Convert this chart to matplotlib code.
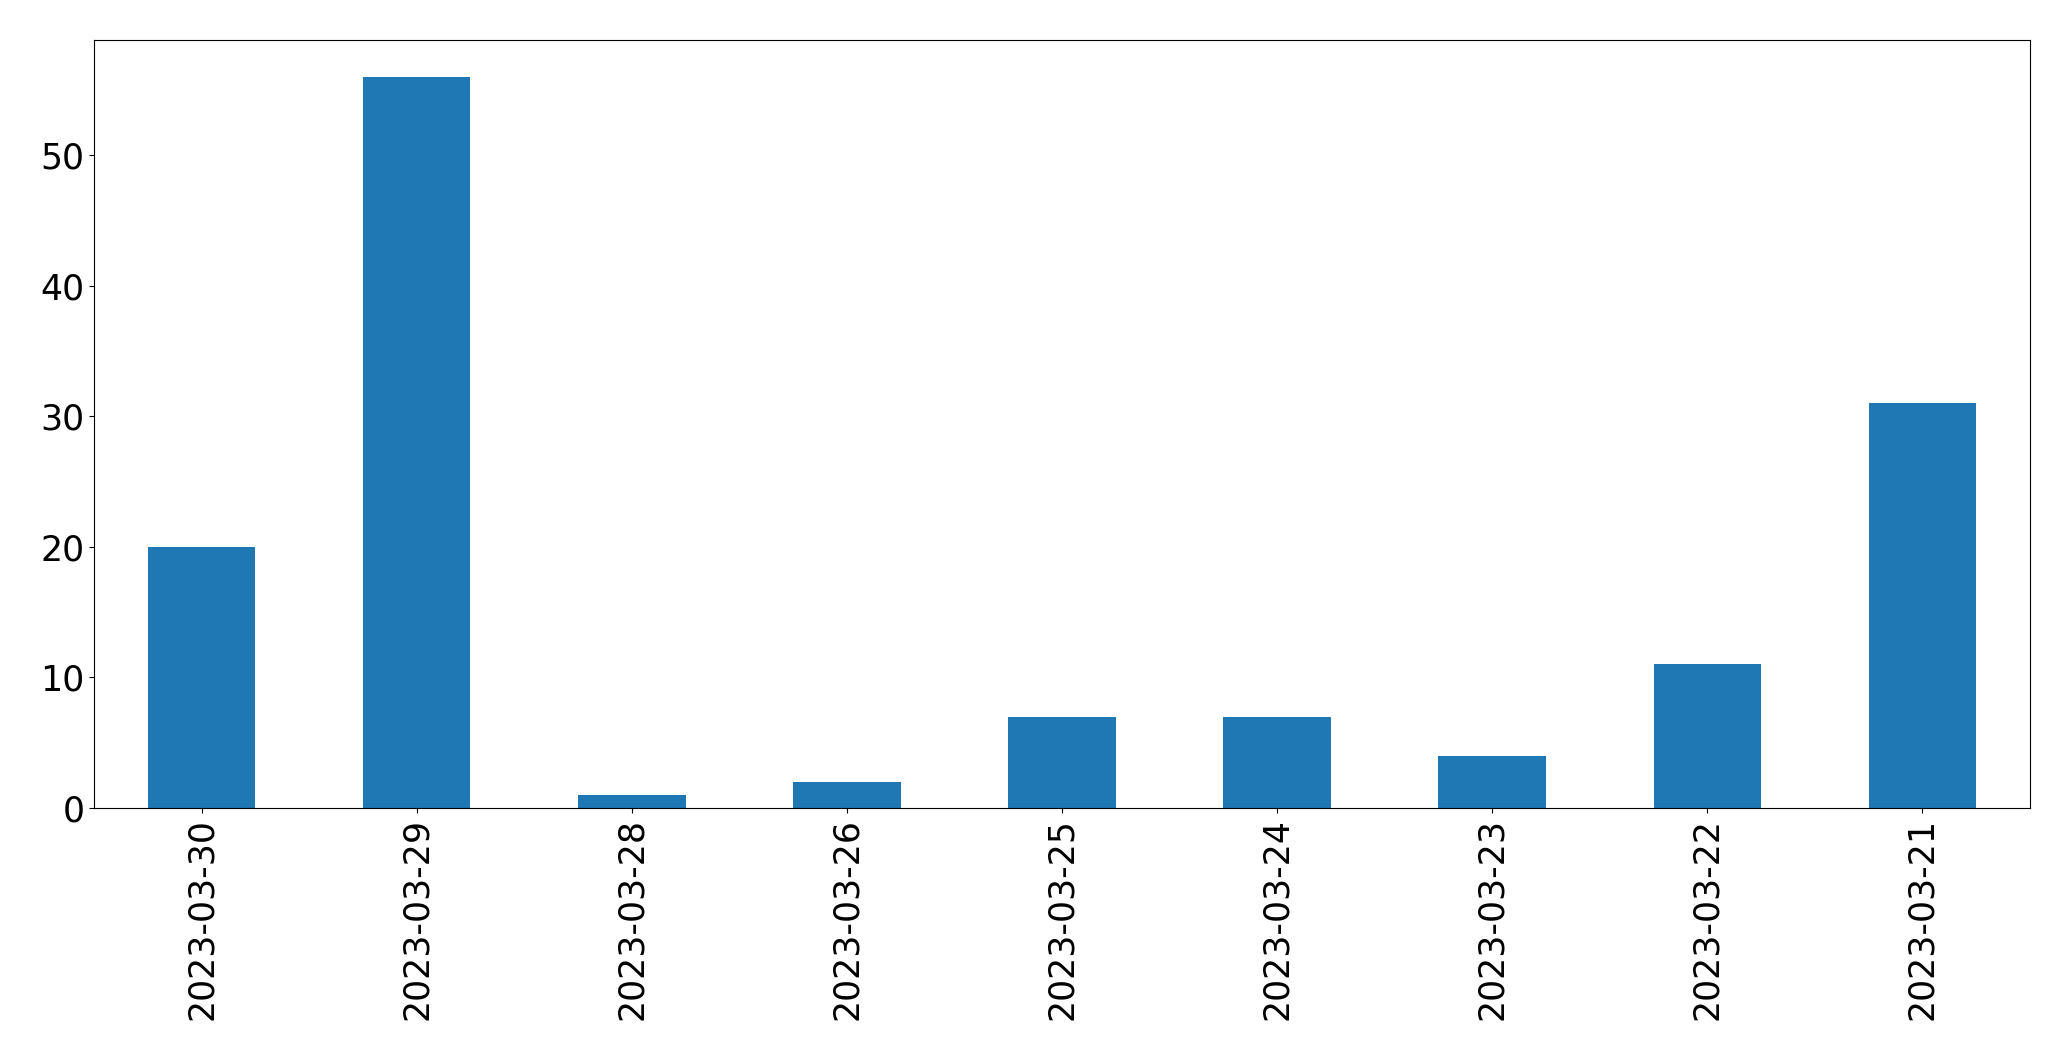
import matplotlib
matplotlib.use("Agg")
import matplotlib.pyplot as plt

dates = ["2023-03-30", "2023-03-29", "2023-03-28", "2023-03-26", "2023-03-25",
         "2023-03-24", "2023-03-23", "2023-03-22", "2023-03-21"]
counts = [20, 56, 1, 2, 7, 7, 4, 11, 31]

fig = plt.figure(figsize=(20.71, 10.61), dpi=100)
ax = fig.add_axes([94/2071, 1-808/1061, (2030-94)/2071, (808-40)/1061])
x = list(range(len(dates)))
ax.bar(x, counts, width=0.5, color="#1f77b4")
ax.set_xlim(-0.5, len(dates)-0.5)
ax.set_ylim(0, max(counts)*1.05)
ax.set_xticks(x)
ax.set_xticklabels(dates, rotation=90)
ax.tick_params(axis="both", labelsize=25)
fig.savefig("out.png", dpi=100)
